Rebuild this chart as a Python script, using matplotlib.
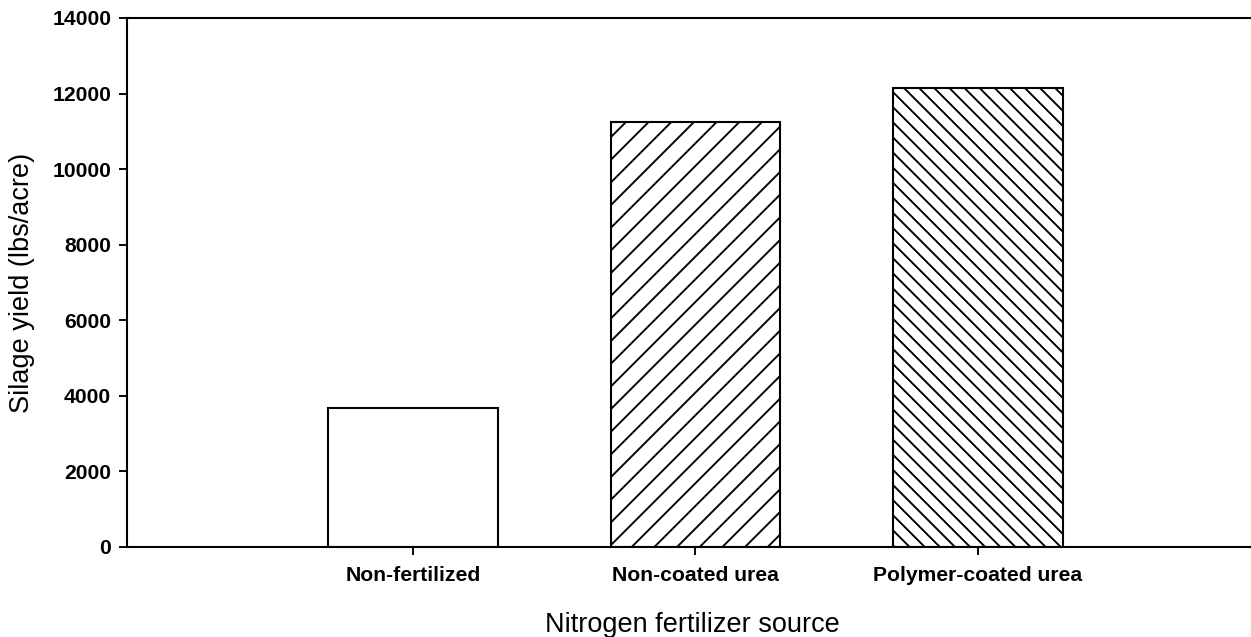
import matplotlib.pyplot as plt

# Silage yield by nitrogen fertilizer source
sources = ["Non-fertilized", "Non-coated urea", "Polymer-coated urea"]
yields = [3680, 11240, 12150]
hatches = ["", "////", "\\\\\\\\\\\\"]
positions = [1, 2, 3]

plt.rcParams["font.family"] = ["Liberation Sans", "DejaVu Sans"]
plt.rcParams["hatch.linewidth"] = 0.5

DPI = 272
fig = plt.figure(figsize=(1251 / DPI, 637 / DPI), dpi=DPI)
# axes runs slightly past the right edge of the figure, like the original
ax = fig.add_axes([127 / 1251, 90 / 637, 1130 / 1251, 529 / 637])

bars = ax.bar(positions, yields, width=0.6, color="white",
              edgecolor="black", linewidth=0.55)
for bar, h in zip(bars, hatches):
    bar.set_hatch(h)

ax.set_xlim(-0.012, 3.988)
ax.set_ylim(0, 14000)
ax.set_yticks(range(0, 14001, 2000))
ax.set_xticks(positions)
ax.set_xticklabels(sources)

for side in ["top", "bottom", "left"]:
    ax.spines[side].set_linewidth(0.55)
ax.spines["right"].set_visible(False)

ax.tick_params(axis="both", direction="out", length=2.0, width=0.5,
               labelsize=5.6, pad=2.2)
ax.tick_params(axis="x", pad=3.0)
for lab in ax.get_xticklabels() + ax.get_yticklabels():
    lab.set_fontweight("bold")

ax.set_xlabel("Nitrogen fertilizer source", fontsize=7.2, labelpad=7.2)
ax.set_ylabel("Silage yield (lbs/acre)", fontsize=7.2, labelpad=4.5)

plt.savefig("out.png", dpi=DPI)
plt.close()
